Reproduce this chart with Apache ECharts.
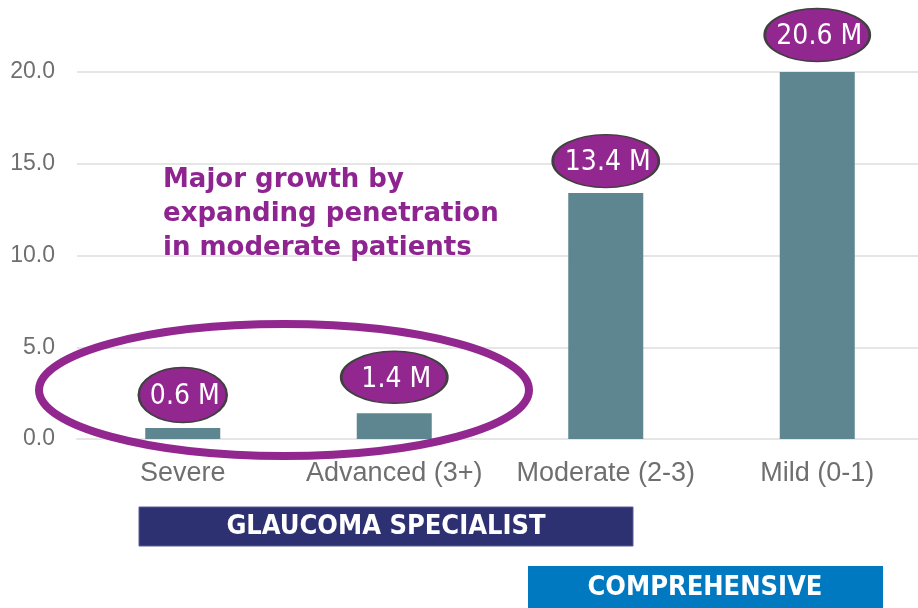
<!DOCTYPE html>
<html>
<head>
<meta charset="utf-8">
<script src="https://cdn.jsdelivr.net/npm/echarts@6.0.0/dist/echarts.min.js"></script>
<style>
    html, body { margin: 0; padding: 0; background: #fff; }
    #chart { width: 918px; height: 608px; }
</style>
</head>
<body>
<div id="chart"></div>
<script>
const categories = ['Severe', 'Advanced (3+)', 'Moderate (2-3)', 'Mild (0-1)'];
const patients = [0.6, 1.4, 13.4, 20.6];   // millions
const yTicks = [0, 5, 10, 15, 20];

// bubble look per bar (not data)
const bubbleSize = [[88, 55], [106, 52], [106, 53], [105, 53]];
const bubbleOffset = [[0, -33], [0, -36], [0, -32], [0, -26]];

const purple = '#92278F';
const ellipsePath = 'path://M0,50A50,50,0,1,1,100,50A50,50,0,1,1,0,50Z';

const chart = echarts.init(document.getElementById('chart'), null, { renderer: 'canvas' });

chart.setOption({
    animation: false,
    grid: { left: 77, width: 846, top: 72, bottom: 169, outerBoundsMode: 'none' },
    xAxis: {
        type: 'category',
        data: categories,
        axisLine: { lineStyle: { color: '#E6E6E6', width: 2 } },
        axisTick: { show: false },
        axisLabel: {
            interval: 0,
            color: '#6F6F6F',
            fontSize: 27,
            fontFamily: 'Liberation Sans',
            margin: 21
        }
    },
    yAxis: {
        type: 'value',
        min: yTicks[0],
        max: yTicks[yTicks.length - 1],
        interval: yTicks[1] - yTicks[0],
        axisLine: { show: false },
        axisTick: { show: false },
        axisLabel: {
            color: '#6F6F6F',
            fontSize: 23,
            fontFamily: 'Liberation Sans',
            margin: 22,
            formatter: v => v.toFixed(1)
        },
        splitLine: { lineStyle: { color: '#E6E6E6', width: 2 } }
    },
    series: [
        {
            type: 'bar',
            data: patients,
            barWidth: 75,
            clip: true,
            itemStyle: { color: '#5E8690' }
        },
        {
            type: 'scatter',
            clip: false,
            z: 5,
            symbol: ellipsePath,
            data: patients.map((v, i) => ({
                value: v,
                symbolSize: bubbleSize[i],
                symbolOffset: bubbleOffset[i]
            })),
            itemStyle: { color: purple, borderColor: '#404040', borderWidth: 2, opacity: 1 },
            label: {
                show: true,
                position: 'inside',
                formatter: p => p.value + ' M',
                color: '#fff',
                fontSize: 28,
                fontFamily: 'DejaVu Sans Condensed',
                offset: [2, 2]
            },
            emphasis: { disabled: true }
        }
    ],
    graphic: [
        {
            type: 'ellipse',
            z: 10,
            shape: { cx: 284, cy: 390, rx: 245, ry: 66 },
            style: { fill: 'none', stroke: purple, lineWidth: 8 }
        },
        {
            type: 'text',
            z: 10,
            left: 163,
            top: 163,
            style: {
                text: 'Major growth by\nexpanding penetration\nin moderate patients',
                fill: '#8E2490',
                font: 'bold 26px "DejaVu Sans"',
                lineHeight: 34
            }
        },
        {
            type: 'rect',
            shape: { x: 139, y: 507, width: 494, height: 39 },
            style: { fill: '#2E3171', stroke: '#5A5C8E', lineWidth: 1 }
        },
        {
            type: 'text',
            x: 386,
            y: 527,
            style: {
                text: 'GLAUCOMA SPECIALIST',
                fill: '#fff',
                font: 'bold 27px "DejaVu Sans Condensed"',
                align: 'center',
                verticalAlign: 'middle'
            }
        },
        {
            type: 'rect',
            shape: { x: 528, y: 566, width: 355, height: 42 },
            style: { fill: '#0079C1' }
        },
        {
            type: 'text',
            x: 705,
            y: 588,
            style: {
                text: 'COMPREHENSIVE',
                fill: '#fff',
                font: 'bold 27px "DejaVu Sans Condensed"',
                align: 'center',
                verticalAlign: 'middle'
            }
        }
    ]
});
</script>
</body>
</html>
